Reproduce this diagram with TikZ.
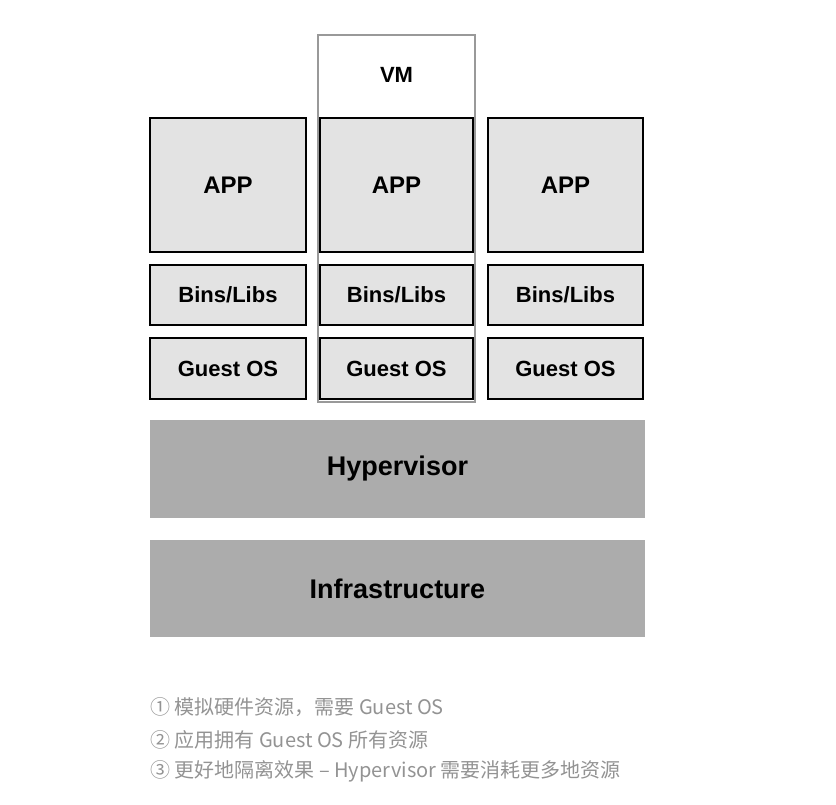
\documentclass[tikz,border=0pt]{standalone}
\usepackage{fontspec}
\setmainfont{Liberation Sans}
\newfontfamily\cjk{Noto Sans CJK SC}
\begin{document}
\begin{tikzpicture}[x=1pt,y=-1pt,
  box/.style={draw=black,line width=1.5pt,fill=gray!22,inner sep=0pt,font=\bfseries\fontsize{22}{26}\selectfont},
  big/.style={draw=none,fill=gray!65,inner sep=0pt,font=\bfseries\fontsize{27}{32}\selectfont},
  note/.style={anchor=west,inner sep=0pt,text=gray!85,font=\cjk\fontsize{20}{24}\selectfont}]
\useasboundingbox (0,0) rectangle (836,804);
\foreach \n/\a/\b in {L/150/306,M/320/473,R/488/643}{
  \node[box,minimum width=\b-\a,minimum height=134,font=\bfseries\fontsize{24}{28}\selectfont] (app\n) at ({(\a+\b)/2},185) {APP};
  \node[box,minimum width=\b-\a,minimum height=60] (bins\n) at ({(\a+\b)/2},295) {Bins/Libs};
  \node[box,minimum width=\b-\a,minimum height=61] (os\n) at ({(\a+\b)/2},368.5) {Guest OS};
}
\node[draw=gray!80,line width=2pt,minimum width=157,minimum height=367,inner sep=0pt] (vm) at (396.5,218.5) {};
\node[font=\bfseries\fontsize{22}{26}\selectfont] (vml) at (396.5,75) {VM};
\node[big,minimum width=495,minimum height=98] (hyp) at (397.5,469) {Hypervisor};
\node[big,minimum width=495,minimum height=97] (inf) at (397.5,588.5) {Infrastructure};
\node[note] (n1) at (150,707) {① 模拟硬件资源，需要 Guest OS};
\node[note] (n2) at (150,740) {② 应用拥有 Guest OS 所有资源};
\node[note] (n3) at (150,771) {③ 更好地隔离效果 – Hypervisor 需要消耗更多地资源};
\end{tikzpicture}
\end{document}
